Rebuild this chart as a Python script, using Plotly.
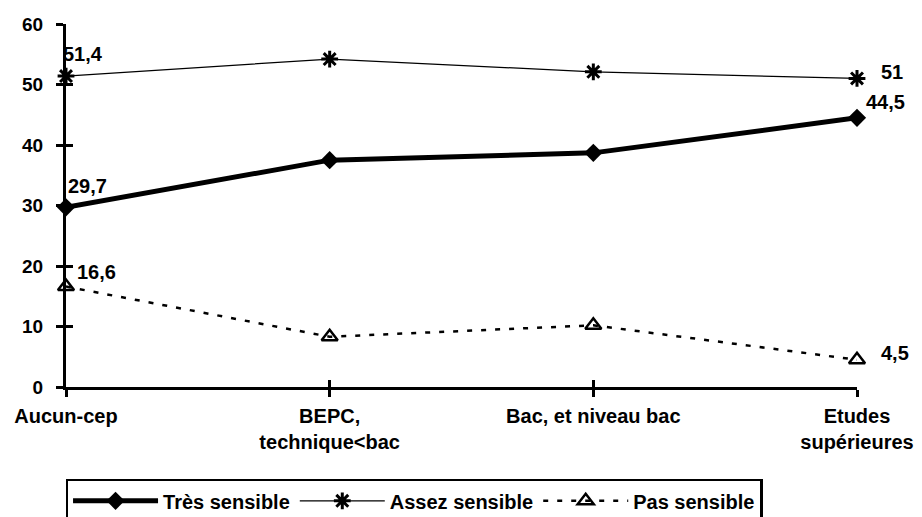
import plotly.graph_objects as go

categories = ["Aucun-cep", "BEPC,<br>technique&lt;bac", "Bac, et niveau bac", "Etudes<br>supérieures"]
tres_sensible = [29.7, 37.5, 38.7, 44.5]
assez_sensible = [51.4, 54.2, 52.1, 51.0]
pas_sensible = [16.6, 8.3, 10.2, 4.5]
y_ticks = [0, 10, 20, 30, 40, 50, 60]

# labelled points: (series values, index, text, xshift, yshift)
labels = [
    (assez_sensible, 0, "51,4", 17, 22),
    (tres_sensible, 0, "29,7", 21, 21),
    (pas_sensible, 0, "16,6", 30, 15),
    (assez_sensible, 3, "51", 35, 6),
    (tres_sensible, 3, "44,5", 28, 16),
    (pas_sensible, 3, "4,5", 38, 7),
]

FONT = "Liberation Sans, Arial, sans-serif"
xs = list(range(len(categories)))

fig = go.Figure()
fig.add_trace(go.Scatter(
    x=xs, y=tres_sensible, name="Très sensible", mode="lines+markers",
    line=dict(color="black", width=5),
    marker=dict(symbol="diamond", size=14, color="black"),
    cliponaxis=False))
fig.add_trace(go.Scatter(
    x=xs, y=assez_sensible, name="Assez sensible", mode="lines+markers",
    line=dict(color="black", width=1.2),
    marker=dict(symbol="asterisk-open", size=14, color="black",
                line=dict(color="black", width=3)),
    cliponaxis=False))
fig.add_trace(go.Scatter(
    x=xs, y=pas_sensible, name="Pas sensible", mode="lines+markers",
    line=dict(color="black", width=2.5, dash="5px,9px"),
    marker=dict(symbol="triangle-up-open", size=14, color="black",
                line=dict(color="black", width=2.5)),
    cliponaxis=False))

for series, i, txt, dx, dy in labels:
    fig.add_annotation(x=xs[i], y=series[i], text=txt, showarrow=False,
                       xshift=dx, yshift=dy, xref="x", yref="y",
                       font=dict(family=FONT, size=20, color="black", weight="bold"))

axis_common = dict(showgrid=False, zeroline=False, automargin=False,
                   tickcolor="black", tickwidth=2.5, ticklen=7)

fig.update_layout(
    width=922, height=517,
    margin=dict(l=58, r=73, t=16, b=138, autoexpand=False),
    paper_bgcolor="white", plot_bgcolor="white",
    font=dict(family=FONT, color="black"),
    xaxis=dict(range=[0, 3], tickmode="array", tickvals=xs, ticktext=categories,
               ticks="outside", showline=True, linecolor="black", linewidth=3,
               ticklabelstandoff=2,
               tickfont=dict(family=FONT, size=20, color="black", weight="bold"),
               **axis_common),
    yaxis=dict(range=[0, 60], tickmode="array", tickvals=y_ticks,
               ticks="outside", showline=True, linecolor="black", linewidth=3,
               ticklabelstandoff=9,
               tickfont=dict(family=FONT, size=19, color="black", weight="bold"),
               **axis_common),
    xaxis2=dict(range=[0, 3], tickmode="array", tickvals=xs, ticks="inside",
                showticklabels=False, overlaying="x", anchor="y", showline=False,
                **axis_common),
    yaxis2=dict(range=[0, 60], tickmode="array", tickvals=y_ticks, ticks="inside",
                showticklabels=False, overlaying="y", anchor="x", showline=False,
                **axis_common),
    legend=dict(orientation="h", x=0.44, xanchor="center", y=-0.253, yanchor="top",
                bordercolor="black", borderwidth=2.5, bgcolor="white",
                font=dict(family=FONT, size=20, color="black", weight="bold"),
                itemwidth=85, tracegroupgap=0),
    showlegend=True,
)
# invisible trace to activate overlay axes
fig.add_trace(go.Scatter(x=[0], y=[0], xaxis="x2", yaxis="y2", mode="markers",
                         marker=dict(opacity=0), showlegend=False, hoverinfo="skip"))

fig.write_html("out.html")
